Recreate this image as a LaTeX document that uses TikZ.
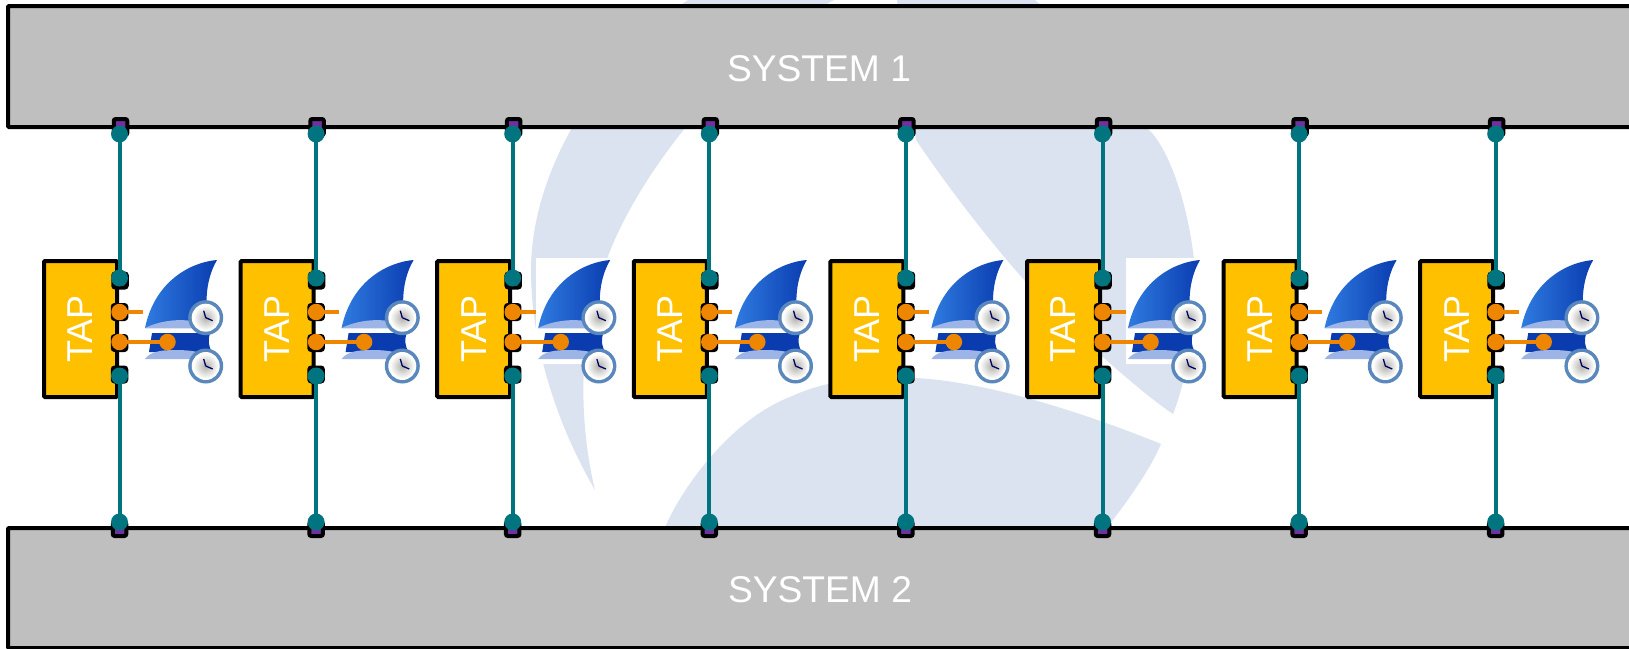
\documentclass[tikz,border=0pt]{standalone}
\usepackage{fontspec}
\setmainfont{Liberation Sans}
\definecolor{logo}{HTML}{DBE3F0}
\definecolor{sysgray}{HTML}{BFBFBF}
\definecolor{tapyellow}{HTML}{FFC000}
\definecolor{tealc}{HTML}{007580}
\definecolor{orangec}{HTML}{EE8600}
\definecolor{purplec}{HTML}{7030A0}
\definecolor{finlight}{HTML}{2F7BE0}
\definecolor{finmid}{HTML}{1558C8}
\definecolor{findark}{HTML}{0A3CB0}
\definecolor{finband}{HTML}{9DB5E6}
\definecolor{clockring}{HTML}{5A88BC}
\definecolor{clockface}{HTML}{DDDCD4}
\tikzset{
  sysbox/.style={draw=black,line width=4pt,fill=sysgray,rounded corners=1pt,inner sep=0pt},
  systext/.style={white,inner sep=0pt,font=\fontsize{37.2}{40}\selectfont},
  tapbox/.style={draw=black,line width=4pt,fill=tapyellow,rounded corners=1pt,rotate=90,minimum width=136pt,minimum height=73pt,inner sep=0pt,text=white,font=\fontsize{36}{40}\selectfont},
  port/.style={draw=black,line width=4pt,rounded corners=2pt,minimum width=13.5pt,minimum height=14pt,inner sep=0pt},
  purpleport/.style={port,fill=purplec},
  tealdot/.style={circle,fill=tealc,minimum size=17pt,inner sep=0pt},
  orangedot/.style={circle,fill=orangec,minimum size=16.5pt,inner sep=0pt},
  tealline/.style={draw=tealc,line width=4pt},
  orangeline/.style={draw=orangec,line width=4pt},
}
\newcommand{\clockat}[2]{%
  \fill[clockring] (#1,#2) circle (17.5);
  \fill[white] (#1,#2) circle (14);
  \shade[inner color=clockface!80!black,outer color=white] (#1,#2) circle (12.5);
  \draw[line width=1.3pt,draw=black!60!blue] (#1,#2) -- ++(7,3);
  \draw[line width=1.3pt,draw=black!60!blue] (#1,#2) -- ++(-2,-7);
}
\begin{document}
\begin{tikzpicture}[x=1pt,y=-1pt]
\useasboundingbox (0,0) rectangle (1629,648);
\clip (0,0) rectangle (1629,648);
\fill[white] (0,0) rectangle (1629,648);
% background logo
\fill[logo] (688,0) .. controls (600,60) and (531,170) .. (531,270)
  .. controls (531,350) and (560,430) .. (595,490)
  .. controls (578,420) and (578,330) .. (606,262)
  .. controls (630,190) and (720,60) .. (834,0) -- cycle;
\fill[logo] (897,0) -- (916,140) .. controls (950,190) and (985,235) .. (1018,273)
  .. controls (1050,310) and (1130,385) .. (1173,414)
  .. controls (1190,370) and (1197,310) .. (1195,270)
  .. controls (1190,210) and (1170,150) .. (1149,130)
  .. controls (1100,60) and (1070,30) .. (1035,0) -- cycle;
\fill[logo] (664,530) .. controls (680,490) and (730,420) .. (790,397)
  .. controls (830,378) and (880,375) .. (916,378)
  .. controls (990,382) and (1090,415) .. (1161,444)
  .. controls (1150,470) and (1125,505) .. (1105,530) -- cycle;
% systems
\node[sysbox,minimum width=1623pt,minimum height=121pt] (sysA) at (819.5,66.5) {};
\node[systext] (sysAt) at (819,68.5) {SYSTEM 1};
\node[sysbox,minimum width=1623pt,minimum height=120pt] (sysB) at (819.5,588) {};
\node[systext] (sysBt) at (820,589.5) {SYSTEM 2};
\foreach \i in {0,...,7}{
  \pgfmathsetmacro{\cx}{119.5+196.6*\i}
  \pgfmathsetmacro{\dx}{196.6*\i}
  \begin{scope}[shift={(\dx,0)}]
    % picture backdrop
    \fill[white] (143,258) rectangle (218,364);
    % upper fin
    \shade[left color=finlight,right color=findark] (217,260)
      .. controls (192,262) and (155,280) .. (145,328) -- (210,328)
      .. controls (205,310) and (204,282) .. (217,260) -- cycle;
    \fill[finband] (145,328) .. controls (165,318) and (195,317) .. (210,328) -- cycle;
    % lower fin
    \fill[findark] (152,333) -- (210,333) .. controls (208,340) and (208,345) .. (212,352) -- (149,352) -- cycle;
    \fill[finband] (145,359) .. controls (150,352) and (160,350) .. (175,350)
      .. controls (195,350) and (205,353) .. (212,359) -- cycle;
    \clockat{205.7}{317.7}
    \clockat{205.7}{366}
  \end{scope}
  \node[tapbox] (tap\i) at ({\cx-39},329) {TAP};
  % ports
  \node[purpleport,minimum height=16pt] (sa\i) at ({\cx+1},127) {};
  \node[purpleport] (sb\i) at ({\cx},529) {};
  \node[port,fill=tealc] (pa\i) at ({\cx+.5},280.5) {};
  \node[port,fill=orangec] (pb\i) at ({\cx},312) {};
  \node[port,fill=orangec] (pc\i) at ({\cx},343) {};
  \node[purpleport] (pd\i) at ({\cx},374.5) {};
  % teal dots and lines
  \node[tealdot] (da\i) at ({\cx},134) {};
  \node[tealdot] (db\i) at ({\cx},278) {};
  \node[tealdot] (dc\i) at ({\cx},376) {};
  \node[tealdot] (dd\i) at ({\cx},522) {};
  \draw[tealline] (da\i.center) -- (db\i.center);
  \draw[tealline] (dc\i.center) -- (dd\i.center);
  % orange dots and lines
  \node[orangedot] (oa\i) at ({\cx},312) {};
  \node[orangedot] (ob\i) at ({\cx},342) {};
  \node[orangedot] (oc\i) at ({\cx+48},342) {};
  \coordinate (ostub\i) at ({\cx+23},312);
  \draw[orangeline] (oa\i.center) -- (ostub\i);
  \draw[orangeline] (ob\i.center) -- (oc\i.center);
}
\end{tikzpicture}
\end{document}
